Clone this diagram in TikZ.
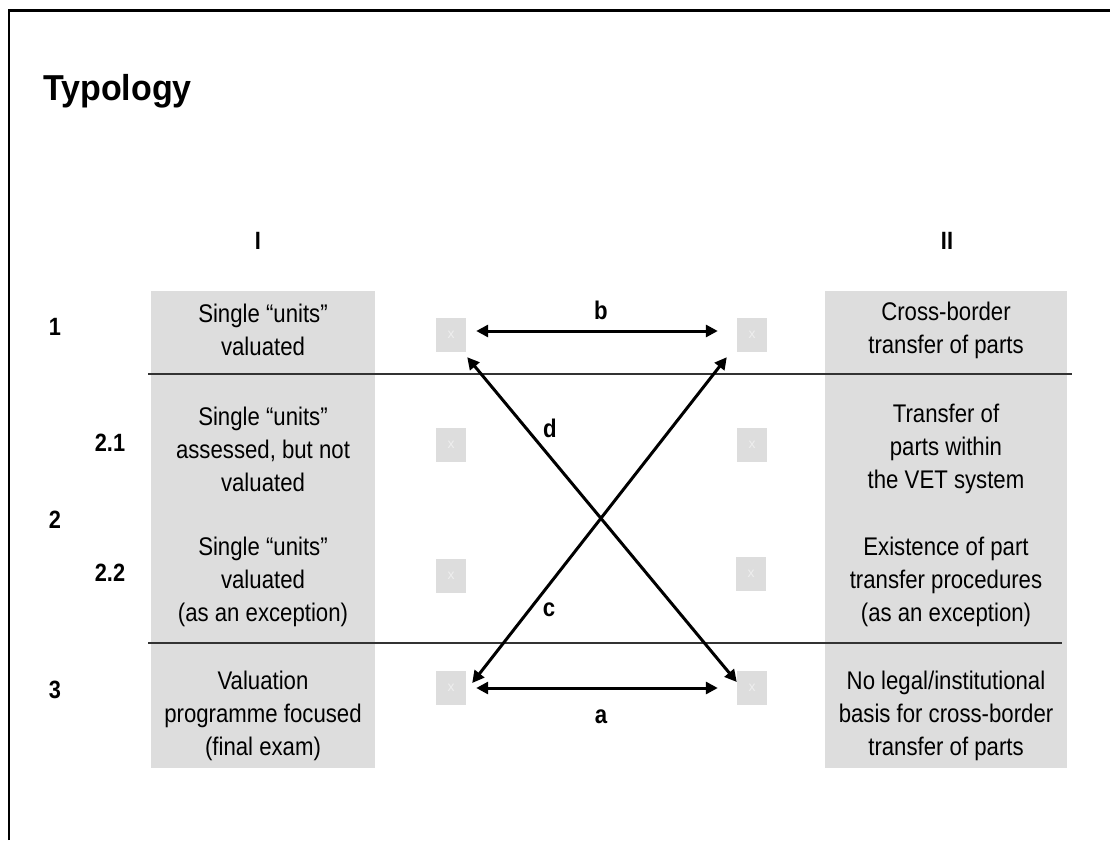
\documentclass[tikz,border=0pt]{standalone}
\usepackage{fontspec}
\setmainfont{Liberation Sans}
\newfontfamily\narrowsans[FakeStretch=0.87]{Liberation Sans}
\usetikzlibrary{arrows.meta}
\definecolor{cellgray}{HTML}{DDDDDD}
\definecolor{markgray}{HTML}{EEEEEE}
\definecolor{rulegray}{HTML}{333333}
\tikzset{
  cell/.style={inner sep=0pt, align=center, font=\narrowsans\fontsize{25.5}{33}\selectfont},
  rowlabel/.style={inner sep=0pt, font=\narrowsans\bfseries\fontsize{25}{28}\selectfont},
  arrlabel/.style={inner sep=0pt, font=\narrowsans\bfseries\fontsize{25.5}{28}\selectfont},
  slot/.style={fill=cellgray, minimum width=30pt, minimum height=34pt, inner sep=0pt,
    text=markgray, font=\fontsize{14}{14}\selectfont},
  link/.style={line width=3pt, {Triangle[length=12pt,width=12pt]}-{Triangle[length=12pt,width=12pt]}},
  divider/.style={line width=1.2pt, draw=rulegray}
}
\begin{document}
\begin{tikzpicture}[x=1pt, y=-1pt]
\useasboundingbox (0,0) rectangle (1110,840);
% outer frame (left and top edges)
\draw[line width=2.5pt] (9,840) -- (9,10.5) -- (1110,10.5);

% title
\node[anchor=base west, inner sep=0pt, font=\bfseries\fontsize{34}{38}\selectfont] (title) at (43,101) {\scalebox{1}[1.06]{Typology}};

% column headers
\node[rowlabel] (hI) at (258,241) {I};
\node[rowlabel] (hII) at (947,241) {II};

% gray columns
\fill[cellgray] (151,291) rectangle (375,768);
\fill[cellgray] (825,291) rectangle (1067,768);

% row dividers
\draw[divider] (148,374) -- (1072,374);
\draw[divider] (148,643) -- (1062,643);

% row numbers
\node[rowlabel] (n1) at (55,327) {1};
\node[rowlabel] (n21) at (110,443) {2.1};
\node[rowlabel] (n2) at (55,520) {2};
\node[rowlabel] (n22) at (110,573) {2.2};
\node[rowlabel] (n3) at (55,690) {3};

% column I texts
\node[cell] (l1) at (263,330) {Single “units”\\valuated};
\node[cell] (l21) at (263,449) {Single “units”\\assessed, but not\\valuated};
\node[cell] (l22) at (263,582) {Single “units”\\valuated\\(as an exception)};
\node[cell] (l3) at (263,716) {Valuation\\programme focused\\(final exam)};

% column II texts
\node[cell] (r1) at (946,330) {Cross-border\\transfer of parts};
\node[cell] (r21) at (946,449) {Transfer of\\parts within\\the VET system};
\node[cell] (r22) at (946,582) {Existence of part\\transfer procedures\\(as an exception)};
\node[cell] (r3) at (946,716) {No legal/institutional\\basis for cross-border\\transfer of parts};

% placeholder slots
\node[slot] (sL1) at (451,335) {x};
\node[slot] (sL21) at (451,445) {x};
\node[slot] (sL22) at (451,576) {x};
\node[slot] (sL3) at (451,688) {x};
\node[slot] (sR1) at (752,335) {x};
\node[slot] (sR21) at (752,445) {x};
\node[slot] (sR22) at (751,574) {x};
\node[slot] (sR3) at (752,688) {x};

% transitions between the slots
\draw[link] ([xshift=10pt,yshift=4pt]sL1.east) -- ([xshift=-19pt,yshift=4pt]sR1.west);
\draw[link] ([xshift=10pt]sL3.east) -- ([xshift=-19pt]sR3.west);
\draw[link] ([xshift=1pt,yshift=-5pt]sL1.south east) -- ([yshift=6pt]sR3.west);
\draw[link] ([xshift=-10pt,yshift=-5pt]sR1.south west) -- ([xshift=6pt,yshift=5pt]sL3.east);
\node[arrlabel] (lb) at (601,310) {b};
\node[arrlabel] (la) at (601,717) {a};
\node[arrlabel] (ld) at (550,428) {d};
\node[arrlabel] (lc) at (549,610) {c};
\end{tikzpicture}
\end{document}
